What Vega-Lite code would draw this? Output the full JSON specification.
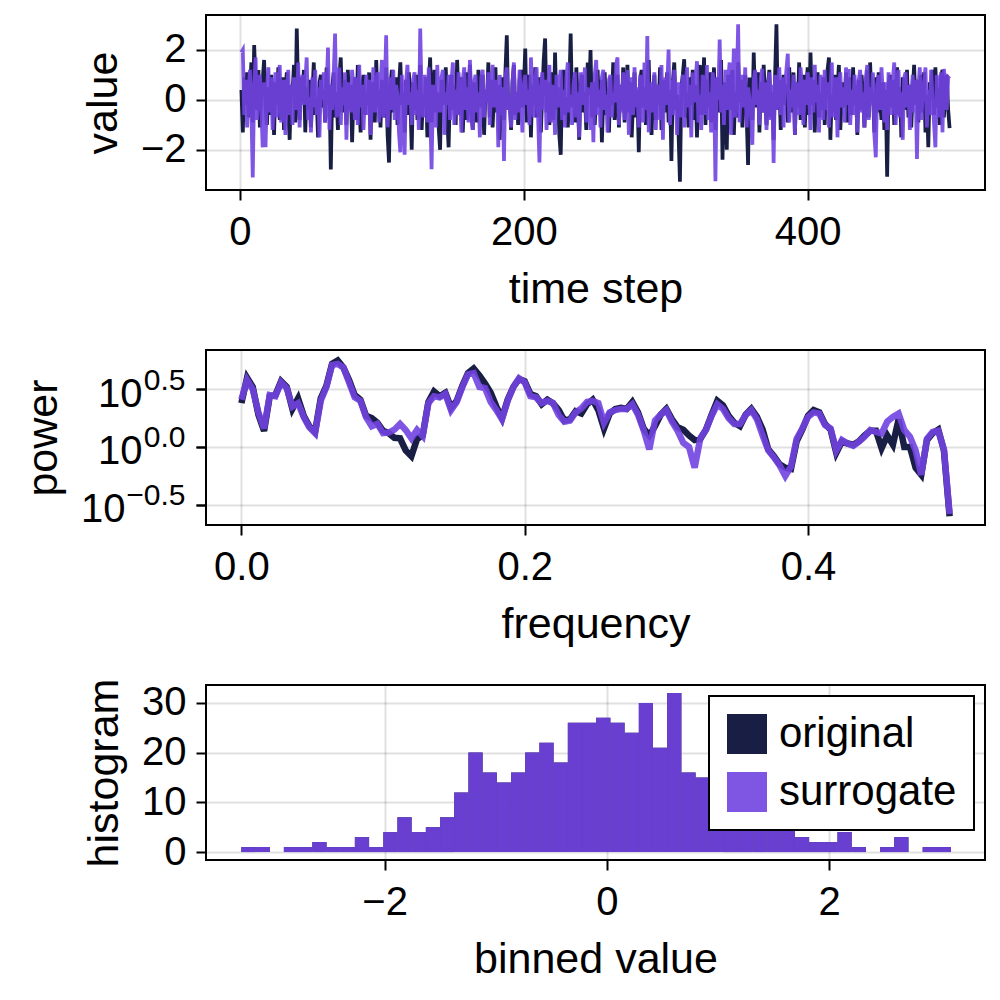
{
"$schema":"https://vega.github.io/schema/vega-lite/v6.json",
"background":"white",
"padding":{"left":21,"top":14,"right":5,"bottom":5},
"spacing":160,
"bounds":"flush",
"resolve":{"legend":{"color":"independent","opacity":"independent"}},
"datasets":{
"ts":[
{"t":1,"o":0.4,"s":1.9},{"t":2,"o":-1.3,"s":2.0},{"t":3,"o":0.9,"s":-0.6},{"t":4,"o":-0.2,"s":0.8},{"t":5,"o":1.1,"s":-1.1},{"t":6,"o":-0.7,"s":0.3},{"t":7,"o":0.3,"s":1.2},{"t":8,"o":1.5,"s":-0.4},{"t":9,"o":-0.9,"s":-3.11},{"t":10,"o":2.2,"s":0.6},
{"t":11,"o":0.6,"s":1.7},{"t":12,"o":-0.4,"s":-0.8},{"t":13,"o":1.2,"s":0.2},{"t":14,"o":-1.1,"s":1.0},{"t":15,"o":0.2,"s":-0.3},{"t":16,"o":0.8,"s":-1.9},{"t":17,"o":1.6,"s":0.7},{"t":18,"o":-0.3,"s":-1.9},{"t":19,"o":-1.0,"s":0.4},{"t":20,"o":0.5,"s":1.3},
{"t":21,"o":-0.6,"s":-0.5},{"t":22,"o":1.0,"s":0.9},{"t":23,"o":0.1,"s":-1.2},{"t":24,"o":-1.4,"s":0.1},{"t":25,"o":0.7,"s":1.1},{"t":26,"o":-0.2,"s":-0.7},{"t":27,"o":1.3,"s":0.5},{"t":28,"o":-0.8,"s":1.4},{"t":29,"o":0.0,"s":-0.9},{"t":30,"o":0.9,"s":0.0},
{"t":31,"o":-1.2,"s":0.8},{"t":32,"o":0.4,"s":-1.4},{"t":33,"o":1.1,"s":0.3},{"t":34,"o":-0.5,"s":1.2},{"t":35,"o":-1.6,"s":-0.6},{"t":36,"o":0.6,"s":0.6},{"t":37,"o":0.2,"s":-1.0},{"t":38,"o":1.4,"s":0.9},{"t":39,"o":-0.9,"s":0.2},{"t":40,"o":2.86,"s":-0.4},
{"t":41,"o":0.3,"s":1.5},{"t":42,"o":-0.8,"s":-1.1},{"t":43,"o":0.9,"s":0.4},{"t":44,"o":-0.1,"s":1.0},{"t":45,"o":1.2,"s":-0.2},{"t":46,"o":-1.3,"s":0.7},{"t":47,"o":0.5,"s":1.7},{"t":48,"o":-0.4,"s":-0.8},{"t":49,"o":0.8,"s":0.1},{"t":50,"o":-1.1,"s":-1.3},
{"t":51,"o":0.2,"s":0.9},{"t":52,"o":1.5,"s":-0.3},{"t":53,"o":-0.6,"s":1.2},{"t":54,"o":0.1,"s":-0.6},{"t":55,"o":-1.5,"s":0.5},{"t":56,"o":0.7,"s":-1.5},{"t":57,"o":1.0,"s":0.8},{"t":58,"o":-0.3,"s":0.0},{"t":59,"o":0.4,"s":1.1},{"t":60,"o":-0.9,"s":-0.9},
{"t":61,"o":1.3,"s":0.3},{"t":62,"o":-0.2,"s":2.1},{"t":63,"o":0.6,"s":-1.2},{"t":64,"o":-2.79,"s":0.6},{"t":65,"o":0.5,"s":-0.4},{"t":66,"o":1.1,"s":1.0},{"t":67,"o":-0.7,"s":2.66},{"t":68,"o":0.3,"s":-0.7},{"t":69,"o":-1.2,"s":0.2},{"t":70,"o":0.9,"s":1.3},
{"t":71,"o":1.7,"s":-1.0},{"t":72,"o":-0.5,"s":0.5},{"t":73,"o":0.0,"s":-0.2},{"t":74,"o":0.8,"s":1.1},{"t":75,"o":-1.0,"s":-1.6},{"t":76,"o":1.2,"s":0.7},{"t":77,"o":-0.4,"s":0.1},{"t":78,"o":0.6,"s":-0.5},{"t":79,"o":-1.7,"s":1.2},{"t":80,"o":0.2,"s":0.4},
{"t":81,"o":0.9,"s":-0.8},{"t":82,"o":-0.8,"s":0.9},{"t":83,"o":1.4,"s":-1.0},{"t":84,"o":-0.1,"s":1.4},{"t":85,"o":-1.3,"s":-0.3},{"t":86,"o":0.5,"s":0.6},{"t":87,"o":1.0,"s":-1.2},{"t":88,"o":-0.6,"s":0.2},{"t":89,"o":0.3,"s":1.0},{"t":90,"o":-0.2,"s":-0.6},
{"t":91,"o":1.1,"s":0.8},{"t":92,"o":-1.6,"s":-1.4},{"t":93,"o":0.7,"s":0.3},{"t":94,"o":0.1,"s":1.3},{"t":95,"o":-0.9,"s":-0.5},{"t":96,"o":1.6,"s":-0.1},{"t":97,"o":-0.3,"s":1.1},{"t":98,"o":0.4,"s":-0.9},{"t":99,"o":-1.1,"s":0.5},{"t":100,"o":0.8,"s":1.6},
{"t":101,"o":0.2,"s":-0.7},{"t":102,"o":-0.7,"s":0.4},{"t":103,"o":1.3,"s":2.59},{"t":104,"o":-1.4,"s":-1.1},{"t":105,"o":-2.51,"s":0.0},{"t":106,"o":0.6,"s":0.9},{"t":107,"o":1.2,"s":-0.4},{"t":108,"o":-0.5,"s":1.2},{"t":109,"o":0.0,"s":-0.8},{"t":110,"o":0.9,"s":0.6},
{"t":111,"o":-1.0,"s":0.2},{"t":112,"o":0.5,"s":-1.3},{"t":113,"o":1.5,"s":-2.1},{"t":114,"o":-0.2,"s":1.0},{"t":115,"o":0.3,"s":-0.5},{"t":116,"o":-1.3,"s":-2.2},{"t":117,"o":0.8,"s":0.7},{"t":118,"o":-0.6,"s":1.4},{"t":119,"o":1.1,"s":-0.2},{"t":120,"o":0.1,"s":0.3},
{"t":121,"o":-2.0,"s":-1.0},{"t":122,"o":0.7,"s":0.8},{"t":123,"o":-0.4,"s":1.1},{"t":124,"o":1.0,"s":-0.6},{"t":125,"o":-0.8,"s":0.4},{"t":126,"o":0.4,"s":-1.2},{"t":127,"o":1.4,"s":2.86},{"t":128,"o":-1.2,"s":0.1},{"t":129,"o":0.2,"s":-0.7},{"t":130,"o":-0.3,"s":1.0},
{"t":131,"o":0.9,"s":0.5},{"t":132,"o":-1.5,"s":-0.9},{"t":133,"o":0.6,"s":1.3},{"t":134,"o":1.7,"s":-0.3},{"t":135,"o":-0.9,"s":-2.78},{"t":136,"o":0.1,"s":0.6},{"t":137,"o":1.2,"s":0.2},{"t":138,"o":-0.5,"s":-1.1},{"t":139,"o":0.3,"s":1.4},{"t":140,"o":-1.1,"s":0.0},
{"t":141,"o":-2.0,"s":-0.5},{"t":142,"o":0.8,"s":0.9},{"t":143,"o":0.4,"s":1.2},{"t":144,"o":-0.2,"s":-1.4},{"t":145,"o":1.3,"s":0.3},{"t":146,"o":-0.7,"s":-0.2},{"t":147,"o":-1.9,"s":1.0},{"t":148,"o":0.5,"s":-0.8},{"t":149,"o":1.0,"s":0.7},{"t":150,"o":-0.4,"s":1.5},
{"t":151,"o":0.6,"s":-1.0},{"t":152,"o":-1.0,"s":0.4},{"t":153,"o":1.6,"s":-0.6},{"t":154,"o":0.0,"s":1.1},{"t":155,"o":-0.6,"s":0.2},{"t":156,"o":0.9,"s":-1.3},{"t":157,"o":-1.3,"s":0.8},{"t":158,"o":0.3,"s":1.3},{"t":159,"o":1.1,"s":-0.4},{"t":160,"o":-0.8,"s":0.5},
{"t":161,"o":0.2,"s":-0.9},{"t":162,"o":1.4,"s":1.6},{"t":163,"o":-0.5,"s":0.1},{"t":164,"o":-1.2,"s":-1.2},{"t":165,"o":0.7,"s":0.7},{"t":166,"o":0.1,"s":1.0},{"t":167,"o":-0.9,"s":-0.5},{"t":168,"o":1.2,"s":0.3},{"t":169,"o":-0.3,"s":-1.5},{"t":170,"o":0.5,"s":0.9},
{"t":171,"o":1.0,"s":1.2},{"t":172,"o":-1.4,"s":-0.7},{"t":173,"o":0.4,"s":0.4},{"t":174,"o":-0.1,"s":-0.1},{"t":175,"o":1.5,"s":1.1},{"t":176,"o":-0.7,"s":-1.0},{"t":177,"o":0.8,"s":0.6},{"t":178,"o":-1.1,"s":1.4},{"t":179,"o":0.3,"s":-0.3},{"t":180,"o":1.3,"s":0.2},
{"t":181,"o":-0.5,"s":0.8},{"t":182,"o":0.6,"s":-1.9},{"t":183,"o":-1.6,"s":1.0},{"t":184,"o":0.2,"s":-0.6},{"t":185,"o":0.9,"s":0.5},{"t":186,"o":-0.8,"s":-2.45},{"t":187,"o":1.1,"s":0.9},{"t":188,"o":2.59,"s":1.3},{"t":189,"o":-0.4,"s":-0.4},{"t":190,"o":0.0,"s":0.1},
{"t":191,"o":-1.2,"s":-1.1},{"t":192,"o":0.7,"s":0.7},{"t":193,"o":1.4,"s":1.5},{"t":194,"o":-0.6,"s":-0.8},{"t":195,"o":0.3,"s":0.3},{"t":196,"o":-1.0,"s":-0.5},{"t":197,"o":0.8,"s":1.2},{"t":198,"o":1.2,"s":0.0},{"t":199,"o":-0.3,"s":-1.3},{"t":200,"o":0.5,"s":0.6},
{"t":201,"o":2.06,"s":1.0},{"t":202,"o":-0.9,"s":-0.2},{"t":203,"o":0.1,"s":0.4},{"t":204,"o":1.0,"s":-1.0},{"t":205,"o":-1.5,"s":1.7},{"t":206,"o":0.6,"s":0.2},{"t":207,"o":-0.2,"s":-0.7},{"t":208,"o":1.3,"s":0.9},{"t":209,"o":-0.7,"s":1.3},{"t":210,"o":0.4,"s":-0.6},
{"t":211,"o":0.9,"s":-2.51},{"t":212,"o":-1.3,"s":0.5},{"t":213,"o":0.2,"s":1.1},{"t":214,"o":1.6,"s":-0.4},{"t":215,"o":2.46,"s":0.8},{"t":216,"o":-0.5,"s":-1.2},{"t":217,"o":0.7,"s":0.3},{"t":218,"o":-1.0,"s":1.4},{"t":219,"o":0.3,"s":-0.9},{"t":220,"o":1.1,"s":0.6},
{"t":221,"o":-0.8,"s":0.1},{"t":222,"o":1.9,"s":-1.4},{"t":223,"o":-0.4,"s":1.0},{"t":224,"o":0.5,"s":-0.3},{"t":225,"o":-1.4,"s":0.7},{"t":226,"o":-2.2,"s":1.2},{"t":227,"o":0.8,"s":-0.8},{"t":228,"o":1.2,"s":0.4},{"t":229,"o":-0.6,"s":-1.1},{"t":230,"o":0.1,"s":0.9},
{"t":231,"o":-1.1,"s":1.5},{"t":232,"o":0.4,"s":-0.5},{"t":233,"o":2.66,"s":0.2},{"t":234,"o":-0.3,"s":-1.0},{"t":235,"o":0.9,"s":0.6},{"t":236,"o":-0.9,"s":1.1},{"t":237,"o":1.3,"s":-0.7},{"t":238,"o":0.0,"s":0.3},{"t":239,"o":-1.6,"s":-1.5},{"t":240,"o":0.6,"s":1.1},
{"t":241,"o":1.0,"s":0.8},{"t":242,"o":-0.5,"s":-0.2},{"t":243,"o":0.3,"s":1.3},{"t":244,"o":-1.2,"s":-0.9},{"t":245,"o":1.5,"s":0.5},{"t":246,"o":0.2,"s":0.0},{"t":247,"o":2.0,"s":-1.2},{"t":248,"o":-0.7,"s":0.7},{"t":249,"o":0.7,"s":-1.7},{"t":250,"o":-1.0,"s":1.0},
{"t":251,"o":0.4,"s":1.6},{"t":252,"o":1.2,"s":-0.6},{"t":253,"o":-0.3,"s":0.4},{"t":254,"o":0.8,"s":-1.1},{"t":255,"o":-1.7,"s":0.9},{"t":256,"o":0.1,"s":1.2},{"t":257,"o":1.1,"s":-0.4},{"t":258,"o":-0.6,"s":0.2},{"t":259,"o":0.5,"s":-1.3},{"t":260,"o":-1.3,"s":0.8},
{"t":261,"o":0.9,"s":1.0},{"t":262,"o":-0.2,"s":-0.7},{"t":263,"o":1.5,"s":0.3},{"t":264,"o":-0.8,"s":-0.1},{"t":265,"o":0.3,"s":1.4},{"t":266,"o":1.0,"s":1.7},{"t":267,"o":-1.1,"s":-1.0},{"t":268,"o":0.6,"s":0.6},{"t":269,"o":-0.4,"s":-0.5},{"t":270,"o":1.3,"s":1.1},
{"t":271,"o":-0.9,"s":-0.8},{"t":272,"o":0.2,"s":0.4},{"t":273,"o":1.4,"s":1.2},{"t":274,"o":-0.5,"s":-1.4},{"t":275,"o":0.7,"s":0.0},{"t":276,"o":-1.5,"s":0.9},{"t":277,"o":0.0,"s":-0.6},{"t":278,"o":1.1,"s":1.3},{"t":279,"o":-0.7,"s":-0.3},{"t":280,"o":0.4,"s":0.5},
{"t":281,"o":-2.1,"s":-1.1},{"t":282,"o":0.8,"s":1.0},{"t":283,"o":1.2,"s":0.2},{"t":284,"o":-0.3,"s":-0.9},{"t":285,"o":0.5,"s":1.5},{"t":286,"o":-1.0,"s":-0.4},{"t":287,"o":0.9,"s":2.56},{"t":288,"o":1.6,"s":-1.3},{"t":289,"o":-0.6,"s":0.7},{"t":290,"o":-1.4,"s":0.1},
{"t":291,"o":0.3,"s":-0.5},{"t":292,"o":1.0,"s":1.1},{"t":293,"o":-0.8,"s":-1.2},{"t":294,"o":0.6,"s":0.6},{"t":295,"o":-0.2,"s":0.3},{"t":296,"o":1.3,"s":-0.8},{"t":297,"o":-1.2,"s":1.4},{"t":298,"o":0.1,"s":-1.6},{"t":299,"o":0.8,"s":0.9},{"t":300,"o":-0.5,"s":-0.2},
{"t":301,"o":1.1,"s":0.5},{"t":302,"o":-0.9,"s":2.02},{"t":303,"o":0.4,"s":-1.0},{"t":304,"o":-2.45,"s":0.8},{"t":305,"o":0.7,"s":-0.6},{"t":306,"o":1.5,"s":1.2},{"t":307,"o":-0.4,"s":0.1},{"t":308,"o":0.2,"s":-1.4},{"t":309,"o":-1.3,"s":0.7},{"t":310,"o":-3.28,"s":0.3},
{"t":311,"o":0.5,"s":-0.7},{"t":312,"o":1.0,"s":1.0},{"t":313,"o":1.63,"s":-1.1},{"t":314,"o":-0.7,"s":0.4},{"t":315,"o":0.3,"s":1.3},{"t":316,"o":-1.1,"s":-0.3},{"t":317,"o":0.9,"s":0.6},{"t":318,"o":-0.2,"s":-1.5},{"t":319,"o":1.2,"s":1.1},{"t":320,"o":-0.8,"s":-0.1},
{"t":321,"o":0.6,"s":0.8},{"t":322,"o":-1.5,"s":1.55},{"t":323,"o":0.1,"s":-0.9},{"t":324,"o":1.4,"s":0.2},{"t":325,"o":-0.6,"s":-1.2},{"t":326,"o":0.4,"s":1.0},{"t":327,"o":1.7,"s":0.5},{"t":328,"o":-1.0,"s":-0.6},{"t":329,"o":0.8,"s":1.4},{"t":330,"o":-0.3,"s":-0.8},
{"t":331,"o":1.1,"s":0.3},{"t":332,"o":-0.9,"s":-1.3},{"t":333,"o":0.2,"s":1.1},{"t":334,"o":1.3,"s":0.7},{"t":335,"o":-1.2,"s":-3.26},{"t":336,"o":0.5,"s":0.9},{"t":337,"o":0.9,"s":0.0},{"t":338,"o":-0.5,"s":2.42},{"t":339,"o":1.6,"s":-0.5},{"t":340,"o":-2.4,"s":0.6},
{"t":341,"o":0.7,"s":-1.0},{"t":342,"o":0.0,"s":1.2},{"t":343,"o":-2.0,"s":-0.4},{"t":344,"o":1.0,"s":0.8},{"t":345,"o":-0.4,"s":1.5},{"t":346,"o":0.6,"s":-1.4},{"t":347,"o":1.2,"s":0.2},{"t":348,"o":-1.4,"s":2.06},{"t":349,"o":0.3,"s":-0.7},{"t":350,"o":-0.7,"s":0.4},
{"t":351,"o":1.5,"s":3.03},{"t":352,"o":-0.1,"s":-0.9},{"t":353,"o":0.8,"s":0.6},{"t":354,"o":-1.1,"s":1.0},{"t":355,"o":0.4,"s":-0.3},{"t":356,"o":1.0,"s":1.3},{"t":357,"o":-0.6,"s":-1.1},{"t":358,"o":-2.61,"s":0.5},{"t":359,"o":0.9,"s":0.1},{"t":360,"o":0.2,"s":-0.6},
{"t":361,"o":-0.8,"s":-1.8},{"t":362,"o":1.9,"s":0.8},{"t":363,"o":-0.3,"s":1.2},{"t":364,"o":0.5,"s":-0.2},{"t":365,"o":1.1,"s":0.4},{"t":366,"o":-1.3,"s":-1.0},{"t":367,"o":0.7,"s":0.9},{"t":368,"o":-0.5,"s":1.24},{"t":369,"o":1.4,"s":-0.5},{"t":370,"o":0.1,"s":0.7},
{"t":371,"o":-1.0,"s":-1.2},{"t":372,"o":0.6,"s":0.3},{"t":373,"o":1.2,"s":1.1},{"t":374,"o":-0.7,"s":-0.8},{"t":375,"o":0.3,"s":0.6},{"t":376,"o":-1.6,"s":-2.53},{"t":377,"o":0.9,"s":1.0},{"t":378,"o":3.03,"s":-0.4},{"t":379,"o":-0.4,"s":0.2},{"t":380,"o":0.8,"s":1.3},
{"t":381,"o":-1.2,"s":-0.6},{"t":382,"o":0.4,"s":0.9},{"t":383,"o":1.0,"s":-1.1},{"t":384,"o":-0.2,"s":0.5},{"t":385,"o":0.6,"s":1.2},{"t":386,"o":-0.9,"s":1.85},{"t":387,"o":1.3,"s":-0.9},{"t":388,"o":-0.5,"s":0.4},{"t":389,"o":0.2,"s":-0.3},{"t":390,"o":1.1,"s":1.0},
{"t":391,"o":-1.4,"s":-1.4},{"t":392,"o":0.7,"s":0.7},{"t":393,"o":-0.3,"s":0.1},{"t":394,"o":1.5,"s":-0.6},{"t":395,"o":-0.8,"s":1.3},{"t":396,"o":0.0,"s":0.5},{"t":397,"o":1.0,"s":-1.0},{"t":398,"o":-1.1,"s":0.8},{"t":399,"o":0.5,"s":-0.2},{"t":400,"o":1.3,"s":1.1},
{"t":401,"o":-0.6,"s":0.3},{"t":402,"o":1.9,"s":-1.2},{"t":403,"o":-0.2,"s":0.9},{"t":404,"o":0.8,"s":-0.5},{"t":405,"o":-1.3,"s":1.4},{"t":406,"o":0.4,"s":-0.1},{"t":407,"o":1.1,"s":0.6},{"t":408,"o":-0.7,"s":-1.3},{"t":409,"o":0.3,"s":1.0},{"t":410,"o":-0.4,"s":0.2},
{"t":411,"o":0.9,"s":-0.8},{"t":412,"o":-1.0,"s":1.2},{"t":413,"o":0.6,"s":-0.4},{"t":414,"o":1.2,"s":0.7},{"t":415,"o":1.7,"s":-1.1},{"t":416,"o":-1.6,"s":0.4},{"t":417,"o":0.2,"s":1.5},{"t":418,"o":-0.5,"s":-0.7},{"t":419,"o":1.0,"s":0.0},{"t":420,"o":-0.8,"s":0.9},
{"t":421,"o":0.4,"s":-1.5},{"t":422,"o":1.4,"s":0.6},{"t":423,"o":-1.2,"s":1.1},{"t":424,"o":0.1,"s":-0.3},{"t":425,"o":0.7,"s":0.5},{"t":426,"o":-0.3,"s":-0.9},{"t":427,"o":1.1,"s":1.3},{"t":428,"o":-0.9,"s":-0.2},{"t":429,"o":0.5,"s":1.24},{"t":430,"o":0.9,"s":-1.0},
{"t":431,"o":-0.6,"s":0.4},{"t":432,"o":1.3,"s":-0.6},{"t":433,"o":-0.2,"s":1.0},{"t":434,"o":0.6,"s":0.2},{"t":435,"o":-1.4,"s":-1.3},{"t":436,"o":0.8,"s":0.8},{"t":437,"o":-0.4,"s":1.2},{"t":438,"o":1.0,"s":-0.5},{"t":439,"o":0.2,"s":0.3},{"t":440,"o":-1.1,"s":-1.1},
{"t":441,"o":0.5,"s":0.9},{"t":442,"o":1.2,"s":1.4},{"t":443,"o":-0.7,"s":-0.8},{"t":444,"o":1.5,"s":0.5},{"t":445,"o":-0.1,"s":-0.2},{"t":446,"o":0.3,"s":1.1},{"t":447,"o":-1.3,"s":-1.4},{"t":448,"o":0.9,"s":-2.3},{"t":449,"o":-0.5,"s":0.6},{"t":450,"o":1.1,"s":1.0},
{"t":451,"o":0.0,"s":-0.4},{"t":452,"o":-0.8,"s":1.3},{"t":453,"o":0.7,"s":0.2},{"t":454,"o":-1.2,"s":-0.9},{"t":455,"o":0.4,"s":0.7},{"t":456,"o":-3.08,"s":-1.2},{"t":457,"o":0.6,"s":1.1},{"t":458,"o":1.0,"s":0.0},{"t":459,"o":-0.3,"s":-0.6},{"t":460,"o":0.8,"s":0.8},
{"t":461,"o":-1.0,"s":1.5},{"t":462,"o":0.2,"s":-1.0},{"t":463,"o":1.3,"s":0.4},{"t":464,"o":-0.6,"s":1.2},{"t":465,"o":0.5,"s":-0.7},{"t":466,"o":-1.5,"s":0.3},{"t":467,"o":0.9,"s":-1.6},{"t":468,"o":0.1,"s":0.9},{"t":469,"o":-0.4,"s":1.1},{"t":470,"o":1.2,"s":-0.3},
{"t":471,"o":-0.7,"s":0.6},{"t":472,"o":0.6,"s":-1.2},{"t":473,"o":-1.1,"s":0.2},{"t":474,"o":0.3,"s":1.0},{"t":475,"o":1.4,"s":-0.5},{"t":476,"o":-0.2,"s":0.8},{"t":477,"o":0.8,"s":-2.37},{"t":478,"o":-0.9,"s":0.5},{"t":479,"o":0.4,"s":1.3},{"t":480,"o":1.0,"s":-0.8},
{"t":481,"o":-0.5,"s":0.1},{"t":482,"o":1.1,"s":0.7},{"t":483,"o":-1.3,"s":1.3},{"t":484,"o":0.2,"s":-1.1},{"t":485,"o":-1.9,"s":0.4},{"t":486,"o":0.7,"s":-0.6},{"t":487,"o":0.0,"s":1.2},{"t":488,"o":1.2,"s":0.0},{"t":489,"o":-0.6,"s":-0.9},{"t":490,"o":1.3,"s":-1.9},
{"t":491,"o":-0.3,"s":1.0},{"t":492,"o":0.5,"s":0.3},{"t":493,"o":-1.0,"s":-0.7},{"t":494,"o":0.9,"s":1.1},{"t":495,"o":1.2,"s":-1.3},{"t":496,"o":-0.7,"s":1.24},{"t":497,"o":0.4,"s":0.5},{"t":498,"o":1.0,"s":-0.4},{"t":499,"o":-0.4,"s":0.9},{"t":500,"o":-1.13,"s":0.84}
],
"psd":[
{"f":0.000,"po":2.399,"ps":2.570},{"f":0.004,"po":3.981,"ps":3.802},{"f":0.008,"po":3.311,"ps":3.162},{"f":0.012,"po":1.905,"ps":1.995},{"f":0.016,"po":1.380,"ps":1.445},{"f":0.020,"po":2.754,"ps":2.818},{"f":0.024,"po":2.818,"ps":2.754},{"f":0.028,"po":3.715,"ps":3.631},{"f":0.032,"po":3.311,"ps":3.236},{"f":0.036,"po":2.138,"ps":2.239},
{"f":0.040,"po":2.630,"ps":2.399},{"f":0.044,"po":1.862,"ps":1.820},{"f":0.048,"po":1.514,"ps":1.479},{"f":0.052,"po":1.349,"ps":1.318},{"f":0.056,"po":2.630,"ps":2.512},{"f":0.060,"po":3.388,"ps":3.311},{"f":0.064,"po":5.248,"ps":5.129},{"f":0.068,"po":5.623,"ps":5.248},{"f":0.072,"po":4.898,"ps":4.898},{"f":0.076,"po":3.802,"ps":3.631},
{"f":0.080,"po":2.818,"ps":2.692},{"f":0.084,"po":2.570,"ps":2.512},{"f":0.088,"po":1.862,"ps":1.820},{"f":0.092,"po":1.778,"ps":1.514},{"f":0.096,"po":1.622,"ps":1.585},{"f":0.100,"po":1.380,"ps":1.318},{"f":0.104,"po":1.318,"ps":1.334},{"f":0.108,"po":1.202,"ps":1.413},{"f":0.112,"po":1.189,"ps":1.585},{"f":0.116,"po":0.933,"ps":1.403},
{"f":0.120,"po":0.832,"ps":1.189},{"f":0.124,"po":1.175,"ps":1.403},{"f":0.128,"po":1.259,"ps":1.245},{"f":0.132,"po":2.455,"ps":2.399},{"f":0.136,"po":3.020,"ps":2.754},{"f":0.140,"po":2.754,"ps":2.692},{"f":0.144,"po":2.951,"ps":2.884},{"f":0.148,"po":2.188,"ps":2.089},{"f":0.152,"po":2.512,"ps":2.455},{"f":0.156,"po":3.388,"ps":3.311},
{"f":0.160,"po":4.365,"ps":4.266},{"f":0.164,"po":4.786,"ps":4.365},{"f":0.168,"po":4.169,"ps":3.311},{"f":0.172,"po":3.548,"ps":3.236},{"f":0.176,"po":2.951,"ps":2.455},{"f":0.180,"po":2.239,"ps":2.089},{"f":0.184,"po":1.778,"ps":1.738},{"f":0.188,"po":2.570,"ps":2.512},{"f":0.192,"po":3.311,"ps":3.311},{"f":0.196,"po":3.890,"ps":3.936},
{"f":0.200,"po":3.715,"ps":3.631},{"f":0.204,"po":2.884,"ps":2.754},{"f":0.208,"po":2.754,"ps":2.692},{"f":0.212,"po":2.344,"ps":2.399},{"f":0.216,"po":2.570,"ps":2.512},{"f":0.220,"po":2.399,"ps":2.399},{"f":0.224,"po":2.089,"ps":1.892},{"f":0.228,"po":1.698,"ps":1.660},{"f":0.232,"po":1.738,"ps":1.698},{"f":0.236,"po":2.042,"ps":1.995},
{"f":0.240,"po":1.950,"ps":2.163},{"f":0.244,"po":2.344,"ps":2.455},{"f":0.248,"po":2.570,"ps":2.512},{"f":0.252,"po":2.089,"ps":2.399},{"f":0.256,"po":1.445,"ps":1.622},{"f":0.260,"po":1.950,"ps":1.995},{"f":0.264,"po":2.138,"ps":2.089},{"f":0.268,"po":2.188,"ps":2.138},{"f":0.272,"po":2.138,"ps":2.138},{"f":0.276,"po":2.455,"ps":2.344},
{"f":0.280,"po":1.995,"ps":1.905},{"f":0.284,"po":1.445,"ps":1.403},{"f":0.288,"po":1.259,"ps":0.955},{"f":0.292,"po":1.514,"ps":1.698},{"f":0.296,"po":1.905,"ps":1.905},{"f":0.300,"po":2.138,"ps":2.089},{"f":0.304,"po":1.738,"ps":1.660},{"f":0.308,"po":1.479,"ps":1.380},{"f":0.312,"po":1.413,"ps":1.084},{"f":0.316,"po":1.259,"ps":1.000},
{"f":0.320,"po":1.148,"ps":0.661},{"f":0.324,"po":1.175,"ps":1.189},{"f":0.328,"po":1.413,"ps":1.413},{"f":0.332,"po":1.905,"ps":1.862},{"f":0.336,"po":2.512,"ps":2.344},{"f":0.340,"po":2.291,"ps":2.138},{"f":0.344,"po":1.862,"ps":1.778},{"f":0.348,"po":1.622,"ps":1.585},{"f":0.352,"po":1.514,"ps":1.585},{"f":0.356,"po":1.905,"ps":1.892},
{"f":0.360,"po":2.138,"ps":2.089},{"f":0.364,"po":1.820,"ps":1.738},{"f":0.368,"po":1.413,"ps":1.259},{"f":0.372,"po":0.955,"ps":0.933},{"f":0.376,"po":0.832,"ps":0.813},{"f":0.380,"po":0.708,"ps":0.692},{"f":0.384,"po":0.661,"ps":0.562},{"f":0.388,"po":0.646,"ps":0.676},{"f":0.392,"po":1.122,"ps":1.175},{"f":0.396,"po":1.413,"ps":1.445},
{"f":0.400,"po":1.862,"ps":1.820},{"f":0.404,"po":2.089,"ps":1.995},{"f":0.408,"po":1.995,"ps":1.950},{"f":0.412,"po":1.585,"ps":1.549},{"f":0.416,"po":1.413,"ps":1.445},{"f":0.420,"po":0.891,"ps":0.933},{"f":0.424,"po":1.122,"ps":1.148},{"f":0.428,"po":1.072,"ps":1.072},{"f":0.432,"po":1.047,"ps":1.023},{"f":0.436,"po":1.122,"ps":1.112},
{"f":0.440,"po":1.259,"ps":1.230},{"f":0.444,"po":1.380,"ps":1.403},{"f":0.448,"po":1.380,"ps":1.349},{"f":0.452,"po":0.977,"ps":1.312},{"f":0.456,"po":1.259,"ps":1.660},{"f":0.460,"po":1.047,"ps":1.820},{"f":0.464,"po":1.738,"ps":1.950},{"f":0.468,"po":1.000,"ps":1.403},{"f":0.472,"po":1.000,"ps":1.230},{"f":0.476,"po":0.661,"ps":0.933},
{"f":0.480,"po":0.575,"ps":0.575},{"f":0.484,"po":1.148,"ps":1.175},{"f":0.488,"po":1.318,"ps":1.349},{"f":0.492,"po":1.413,"ps":1.380},{"f":0.496,"po":0.933,"ps":0.955},{"f":0.500,"po":0.251,"ps":0.263}
],
"hist":[
{"series":"original","lo":-3.290,"hi":-3.162,"n":1},{"series":"original","lo":-3.162,"hi":-3.034,"n":1},{"series":"original","lo":-3.034,"hi":-2.907,"n":0},{"series":"original","lo":-2.907,"hi":-2.779,"n":1},{"series":"original","lo":-2.779,"hi":-2.651,"n":1},
{"series":"original","lo":-2.651,"hi":-2.523,"n":2},{"series":"original","lo":-2.523,"hi":-2.396,"n":1},{"series":"original","lo":-2.396,"hi":-2.268,"n":1},{"series":"original","lo":-2.268,"hi":-2.140,"n":3},{"series":"original","lo":-2.140,"hi":-2.012,"n":1},
{"series":"original","lo":-2.012,"hi":-1.885,"n":4},{"series":"original","lo":-1.885,"hi":-1.757,"n":7},{"series":"original","lo":-1.757,"hi":-1.629,"n":4},{"series":"original","lo":-1.629,"hi":-1.501,"n":5},{"series":"original","lo":-1.501,"hi":-1.374,"n":7},
{"series":"original","lo":-1.374,"hi":-1.246,"n":12},{"series":"original","lo":-1.246,"hi":-1.118,"n":20},{"series":"original","lo":-1.118,"hi":-0.990,"n":16},{"series":"original","lo":-0.990,"hi":-0.862,"n":14},{"series":"original","lo":-0.862,"hi":-0.735,"n":16},
{"series":"original","lo":-0.735,"hi":-0.607,"n":20},{"series":"original","lo":-0.607,"hi":-0.479,"n":22},{"series":"original","lo":-0.479,"hi":-0.351,"n":18},{"series":"original","lo":-0.351,"hi":-0.224,"n":26},{"series":"original","lo":-0.224,"hi":-0.096,"n":26},
{"series":"original","lo":-0.096,"hi":0.032,"n":27},{"series":"original","lo":0.032,"hi":0.160,"n":26},{"series":"original","lo":0.160,"hi":0.288,"n":24},{"series":"original","lo":0.288,"hi":0.415,"n":30},{"series":"original","lo":0.415,"hi":0.543,"n":21},
{"series":"original","lo":0.543,"hi":0.671,"n":32},{"series":"original","lo":0.671,"hi":0.799,"n":16},{"series":"original","lo":0.799,"hi":0.926,"n":15},{"series":"original","lo":0.926,"hi":1.054,"n":17},{"series":"original","lo":1.054,"hi":1.182,"n":12},
{"series":"original","lo":1.182,"hi":1.310,"n":11},{"series":"original","lo":1.310,"hi":1.437,"n":9},{"series":"original","lo":1.437,"hi":1.565,"n":8},{"series":"original","lo":1.565,"hi":1.693,"n":5},{"series":"original","lo":1.693,"hi":1.821,"n":3},
{"series":"original","lo":1.821,"hi":1.948,"n":2},{"series":"original","lo":1.948,"hi":2.076,"n":2},{"series":"original","lo":2.076,"hi":2.204,"n":4},{"series":"original","lo":2.204,"hi":2.332,"n":1},{"series":"original","lo":2.332,"hi":2.460,"n":0},
{"series":"original","lo":2.460,"hi":2.587,"n":1},{"series":"original","lo":2.587,"hi":2.715,"n":3},{"series":"original","lo":2.715,"hi":2.843,"n":0},{"series":"original","lo":2.843,"hi":2.971,"n":1},{"series":"original","lo":2.971,"hi":3.098,"n":1},
{"series":"surrogate","lo":-3.290,"hi":-3.162,"n":1},{"series":"surrogate","lo":-3.162,"hi":-3.034,"n":1},{"series":"surrogate","lo":-3.034,"hi":-2.907,"n":0},{"series":"surrogate","lo":-2.907,"hi":-2.779,"n":1},{"series":"surrogate","lo":-2.779,"hi":-2.651,"n":1},
{"series":"surrogate","lo":-2.651,"hi":-2.523,"n":2},{"series":"surrogate","lo":-2.523,"hi":-2.396,"n":1},{"series":"surrogate","lo":-2.396,"hi":-2.268,"n":1},{"series":"surrogate","lo":-2.268,"hi":-2.140,"n":3},{"series":"surrogate","lo":-2.140,"hi":-2.012,"n":1},
{"series":"surrogate","lo":-2.012,"hi":-1.885,"n":4},{"series":"surrogate","lo":-1.885,"hi":-1.757,"n":7},{"series":"surrogate","lo":-1.757,"hi":-1.629,"n":4},{"series":"surrogate","lo":-1.629,"hi":-1.501,"n":5},{"series":"surrogate","lo":-1.501,"hi":-1.374,"n":7},
{"series":"surrogate","lo":-1.374,"hi":-1.246,"n":12},{"series":"surrogate","lo":-1.246,"hi":-1.118,"n":20},{"series":"surrogate","lo":-1.118,"hi":-0.990,"n":16},{"series":"surrogate","lo":-0.990,"hi":-0.862,"n":14},{"series":"surrogate","lo":-0.862,"hi":-0.735,"n":16},
{"series":"surrogate","lo":-0.735,"hi":-0.607,"n":20},{"series":"surrogate","lo":-0.607,"hi":-0.479,"n":22},{"series":"surrogate","lo":-0.479,"hi":-0.351,"n":18},{"series":"surrogate","lo":-0.351,"hi":-0.224,"n":26},{"series":"surrogate","lo":-0.224,"hi":-0.096,"n":26},
{"series":"surrogate","lo":-0.096,"hi":0.032,"n":27},{"series":"surrogate","lo":0.032,"hi":0.160,"n":26},{"series":"surrogate","lo":0.160,"hi":0.288,"n":24},{"series":"surrogate","lo":0.288,"hi":0.415,"n":30},{"series":"surrogate","lo":0.415,"hi":0.543,"n":21},
{"series":"surrogate","lo":0.543,"hi":0.671,"n":32},{"series":"surrogate","lo":0.671,"hi":0.799,"n":16},{"series":"surrogate","lo":0.799,"hi":0.926,"n":15},{"series":"surrogate","lo":0.926,"hi":1.054,"n":17},{"series":"surrogate","lo":1.054,"hi":1.182,"n":12},
{"series":"surrogate","lo":1.182,"hi":1.310,"n":11},{"series":"surrogate","lo":1.310,"hi":1.437,"n":9},{"series":"surrogate","lo":1.437,"hi":1.565,"n":8},{"series":"surrogate","lo":1.565,"hi":1.693,"n":5},{"series":"surrogate","lo":1.693,"hi":1.821,"n":3},
{"series":"surrogate","lo":1.821,"hi":1.948,"n":2},{"series":"surrogate","lo":1.948,"hi":2.076,"n":2},{"series":"surrogate","lo":2.076,"hi":2.204,"n":4},{"series":"surrogate","lo":2.204,"hi":2.332,"n":1},{"series":"surrogate","lo":2.332,"hi":2.460,"n":0},
{"series":"surrogate","lo":2.460,"hi":2.587,"n":1},{"series":"surrogate","lo":2.587,"hi":2.715,"n":3},{"series":"surrogate","lo":2.715,"hi":2.843,"n":0},{"series":"surrogate","lo":2.843,"hi":2.971,"n":1},{"series":"surrogate","lo":2.971,"hi":3.098,"n":1}
]
},
"vconcat":[
{
"width":779,"height":175,
"data":{"name":"ts"},
"encoding":{"x":{"field":"t","type":"quantitative","scale":{"domain":[-23.95,524.95],"nice":false,"zero":false},"axis":{"values":[0,200,400],"title":"time step"}}},
"layer":[
{"mark":{"type":"line","color":"#191E44","strokeWidth":3.75},"encoding":{"y":{"field":"o","type":"quantitative","scale":{"domain":[-3.61,3.4],"nice":false,"zero":false},"axis":{"values":[-2,0,2],"title":"value"}}}},
{"mark":{"type":"line","color":"#7143E0","opacity":0.9,"strokeWidth":3.75},"encoding":{"y":{"field":"s","type":"quantitative","axis":{"values":[-2,0,2],"title":"value"}}}}
]
},
{
"width":779,"height":175,
"data":{"name":"psd"},
"encoding":{"x":{"field":"f","type":"quantitative","scale":{"domain":[-0.025,0.525],"nice":false,"zero":false},"axis":{"values":[0,0.2,0.4],"format":".1f","title":"frequency"}}},
"layer":[
{"mark":{"type":"line","color":"#191E44","strokeWidth":6.5},"encoding":{"y":{"field":"po","type":"quantitative","scale":{"type":"log","domain":[0.2109,6.926],"nice":false},"axis":{"orient":"left","values":[0.316228,1,3.162278],"labelExpr":"'10'","labelBaseline":"alphabetic","labelOffset":17,"labelPadding":{"condition":{"test":"datum.value < 0.5","value":71},"value":54},"title":"power"}}}},
{"mark":{"type":"line","color":"#7143E0","opacity":0.9,"strokeWidth":6.5},"encoding":{"y":{"field":"ps","type":"quantitative","axis":{"orient":"left","values":[0.316228,1,3.162278],"labelExpr":"format(log(datum.value)/LN10,'.1f')","labelFontSize":30,"labelBaseline":"alphabetic","labelPadding":11,"grid":false,"title":null}}}}
],
"resolve":{"axis":{"y":"independent"}}
},
{
"width":779,"height":175,
"data":{"name":"hist"},
"mark":{"type":"bar"},
"encoding":{
"x":{"field":"lo","type":"quantitative","scale":{"domain":[-3.608,3.404],"nice":false,"zero":false},"axis":{"values":[-2,0,2],"title":"binned value"}},
"x2":{"field":"hi"},
"y":{"field":"n","type":"quantitative","stack":null,"scale":{"domain":[-1.6,33.6],"nice":false,"zero":false},"axis":{"values":[0,10,20,30],"title":"histogram"}},
"y2":{"datum":0},
"color":{"field":"series","type":"nominal","scale":{"domain":["original","surrogate"],"range":["#191E44","#7143E0"]},"legend":{"title":null}},
"opacity":{"field":"series","type":"ordinal","scale":{"type":"ordinal","domain":["original","surrogate"],"range":[1,0.9]},"legend":{"title":null}}
}
}
],
"config":{
"font":"Liberation Sans",
"view":{"stroke":"#000","strokeWidth":2},
"axis":{"labelFont":"Liberation Sans","titleFont":"Liberation Sans","labelFontSize":40,"titleFontSize":43,"titleFontWeight":"normal","labelColor":"#000","titleColor":"#000","tickColor":"#000","tickSize":10,"tickWidth":2,"domain":false,"grid":true,"gridColor":"#000","gridOpacity":0.12,"gridWidth":2,"labelOverlap":false,"labelFlush":false,"labelBound":false},
"axisX":{"labelPadding":12,"titlePadding":16},
"axisY":{"labelPadding":10,"titlePadding":15},
"legend":{"orient":"top-right","offset":11,"padding":17,"strokeColor":"#000","strokeWidth":2,"fillColor":"#fff","cornerRadius":0,"symbolType":"square","symbolSize":1600,"symbolStrokeWidth":0,"labelFont":"Liberation Sans","labelFontSize":42,"labelLimit":400,"labelOffset":11,"rowPadding":16}
}
}
